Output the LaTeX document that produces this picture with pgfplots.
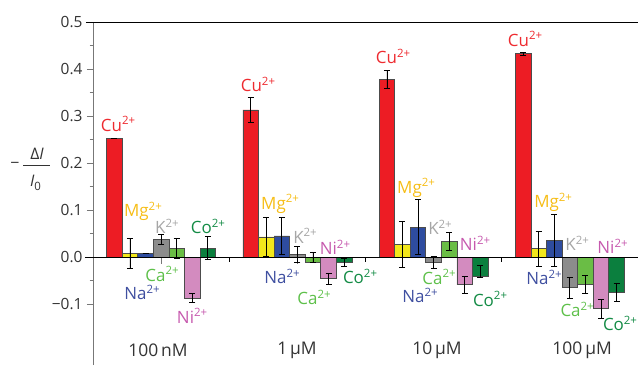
\documentclass[border=0pt]{standalone}
\usepackage{fontspec}
\setmainfont{Open Sans}
\usepackage{pgfplots}
\usepackage{pgfplotstable}
\pgfplotsset{compat=1.18}

\definecolor{cuC}{HTML}{ED1C24}
\definecolor{mgC}{HTML}{F2E71B}
\definecolor{naC}{HTML}{2E4C9F}
\definecolor{kC}{HTML}{8C8C8C}
\definecolor{caC}{HTML}{6ABD45}
\definecolor{niC}{HTML}{D38BBF}
\definecolor{coC}{HTML}{0B7F3E}
\definecolor{cuL}{HTML}{EE2A2F}
\definecolor{mgL}{HTML}{F6BD16}
\definecolor{naL}{HTML}{3F4FA0}
\definecolor{kL}{HTML}{A6A6A6}
\definecolor{caL}{HTML}{5EC04A}
\definecolor{niL}{HTML}{C659AE}
\definecolor{coL}{HTML}{138B45}
\definecolor{txt}{HTML}{333333}
\definecolor{axg}{HTML}{777777}

\newcommand\ion[2]{#1\raisebox{6.2bp}{\fontsize{11.5}{11.5}\selectfont #2}}

\pgfplotstableread{
x y ep em
0 0.253 0 0
1 0.313 0.027 0.027
2 0.377 0.019 0.019
3 0.433 0.003 0.003
}\cu
\pgfplotstableread{
x y ep em
0 0.008 0.032 0.032
1 0.043 0.041 0.041
2 0.027 0.048 0.048
3 0.018 0.037 0.037
}\mg
\pgfplotstableread{
x y ep em
0 0.008 0 0
1 0.045 0.039 0.039
2 0.064 0.059 0.059
3 0.036 0.055 0.055
}\na
\pgfplotstableread{
x y ep em
0 0.038 0.010 0.010
1 0.006 0.017 0.017
2 -0.011 0.012 0.012
3 -0.065 0.022 0.022
}\kk
\pgfplotstableread{
x y ep em
0 0.019 0.021 0.021
1 -0.011 0.022 0.001
2 0.034 0.019 0.019
3 -0.058 0.019 0.019
}\ca
\pgfplotstableread{
x y ep em
0 -0.087 0.010 0.010
1 -0.046 0.012 0.012
2 -0.059 0.018 0.018
3 -0.110 0.020 0.020
}\ni
\pgfplotstableread{
x y ep em
0 0.019 0.024 0.024
1 -0.011 0.009 0.009
2 -0.040 0.023 0.003
3 -0.075 0.020 0.020
}\co

\begin{document}
\begin{tikzpicture}[x=1bp,y=1bp]
\useasboundingbox (0,0) rectangle (638,365);
\begin{axis}[
  at={(93bp,0bp)}, anchor=south west,
  width=545bp, height=343bp, scale only axis,
  xmin=-0.5, xmax=3.5, ymin=-0.2295, ymax=0.5,
  clip=false,
  axis x line=none, axis y line=left,
  axis line style={-, draw=axg, line width=0.9bp},
  ytick={-0.1,0,0.1,0.2,0.3,0.4,0.5},
  yticklabels={−0.1,0.0,0.1,0.2,0.3,0.4,0.5},
  minor y tick num=1,
  tick align=outside, ytick pos=left,
  major tick length=6bp, minor tick length=3.5bp,
  every tick/.style={draw=axg, line width=0.9bp},
  yticklabel style={font=\fontsize{15.5}{16}\selectfont, text=txt, xshift=-1bp},
  ybar=0pt, bar width=15.57bp,
  error bars/y dir=both, error bars/y explicit,
  error bars/error mark options={rotate=90, mark size=3bp, line width=0.8bp, black},
  error bars/error bar style={line width=0.8bp, black},
]
% ticks on zero line
\draw[axg, line width=0.8bp] (axis cs:0,0) -- ++(0pt,-6.5bp);
\draw[black, line width=0.8bp] (axis cs:0.5,0) -- ++(0pt,-5bp);
\draw[axg, line width=0.8bp] (axis cs:1,0) -- ++(0pt,-6.5bp);
\draw[black, line width=0.8bp] (axis cs:1.5,0) -- ++(0pt,-5bp);
\draw[axg, line width=0.8bp] (axis cs:2,0) -- ++(0pt,-6.5bp);
\draw[black, line width=0.8bp] (axis cs:2.5,0) -- ++(0pt,-5bp);
\draw[axg, line width=0.8bp] (axis cs:3,0) -- ++(0pt,-6.5bp);

\addplot[fill=cuC, draw=black!70, line width=0.7bp] table[x=x,y=y,y error plus=ep,y error minus=em]{\cu};
\addplot[fill=mgC, draw=black!70, line width=0.7bp] table[x=x,y=y,y error plus=ep,y error minus=em]{\mg};
\addplot[fill=naC, draw=black!70, line width=0.7bp] table[x=x,y=y,y error plus=ep,y error minus=em]{\na};
\addplot[fill=kC, draw=black!70, line width=0.7bp] table[x=x,y=y,y error plus=ep,y error minus=em]{\kk};
\addplot[fill=caC, draw=black!70, line width=0.7bp] table[x=x,y=y,y error plus=ep,y error minus=em]{\ca};
\addplot[fill=niC, draw=black!70, line width=0.7bp] table[x=x,y=y,y error plus=ep,y error minus=em]{\ni};
\addplot[fill=coC, draw=black!70, line width=0.7bp] table[x=x,y=y,y error plus=ep,y error minus=em]{\co};

% zero line and top line
\draw[black, line width=0.9bp] (axis cs:-0.559,0) -- (axis cs:3.5,0);
\draw[black, line width=0.9bp] (axis cs:-0.552,0.5) -- (axis cs:3.5,0.5);

\tikzset{ion/.style={font=\fontsize{17}{17}\selectfont, inner sep=0pt}}
% group 1
\node[ion, text=cuL] at (axis cs:-0.316,0.283) {\ion{Cu}{2+}};
\node[ion, text=mgL] at (axis cs:-0.133,0.098) {\ion{Mg}{2+}};
\node[ion, text=kL]  at (axis cs:0.043,0.066) {\ion{K}{2+}};
\node[ion, text=coL] at (axis cs:0.344,0.066) {\ion{Co}{2+}};
\node[ion, text=caL] at (axis cs:0.007,-0.036) {\ion{Ca}{2+}};
\node[ion, text=naL] at (axis cs:-0.140,-0.075) {\ion{Na}{2+}};
\node[ion, text=niL] at (axis cs:0.227,-0.125) {\ion{Ni}{2+}};
% group 2
\node[ion, text=cuL] at (axis cs:0.711,0.368) {\ion{Cu}{2+}};
\node[ion, text=mgL] at (axis cs:0.873,0.113) {\ion{Mg}{2+}};
\node[ion, text=kL]  at (axis cs:1.056,0.045) {\ion{K}{2+}};
\node[ion, text=niL] at (axis cs:1.276,0.021) {\ion{Ni}{2+}};
\node[ion, text=naL] at (axis cs:0.887,-0.041) {\ion{Na}{2+}};
\node[ion, text=coL] at (axis cs:1.460,-0.041) {\ion{Co}{2+}};
\node[ion, text=caL] at (axis cs:1.122,-0.085) {\ion{Ca}{2+}};
% group 3
\node[ion, text=cuL] at (axis cs:1.702,0.427) {\ion{Cu}{2+}};
\node[ion, text=mgL] at (axis cs:1.871,0.147) {\ion{Mg}{2+}};
\node[ion, text=kL]  at (axis cs:2.047,0.064) {\ion{K}{2+}};
\node[ion, text=niL] at (axis cs:2.304,0.030) {\ion{Ni}{2+}};
\node[ion, text=caL] at (axis cs:2.040,-0.042) {\ion{Ca}{2+}};
\node[ion, text=naL] at (axis cs:1.900,-0.082) {\ion{Na}{2+}};
\node[ion, text=coL] at (axis cs:2.414,-0.089) {\ion{Co}{2+}};
% group 4
\node[ion, text=cuL] at (axis cs:2.671,0.464) {\ion{Cu}{2+}};
\node[ion, text=mgL] at (axis cs:2.877,0.117) {\ion{Mg}{2+}};
\node[ion, text=kL]  at (axis cs:3.053,0.030) {\ion{K}{2+}};
\node[ion, text=niL] at (axis cs:3.313,0.023) {\ion{Ni}{2+}};
\node[ion, text=naL] at (axis cs:2.810,-0.043) {\ion{Na}{2+}};
\node[ion, text=caL] at (axis cs:3.053,-0.111) {\ion{Ca}{2+}};
\node[ion, text=coL] at (axis cs:3.368,-0.141) {\ion{Co}{2+}};

% category labels
\tikzset{cat/.style={font=\fontsize{17.5}{17.5}\selectfont, text=txt, inner sep=0pt}}
\node[cat] at (axis cs:-0.023,-0.198) {100\,nM};
\node[cat] at (axis cs:0.997,-0.198) {1\,µM};
\node[cat] at (axis cs:2.025,-0.198) {10\,µM};
\node[cat] at (axis cs:3.090,-0.198) {100\,µM};
\end{axis}
% y label
\node[font=\fontsize{16}{16}\selectfont, text=txt, inner sep=0pt] at (15,199.5) {−};
\draw[txt, line width=0.7bp] (23,199.5) -- (50,199.5);
\node[font=\fontsize{16}{16}\selectfont, text=txt, inner sep=0pt] at (37,211) {Δ\textit{I}};
\node[font=\fontsize{16}{16}\selectfont, text=txt, inner sep=0pt] at (35.5,182) {\textit{I}\raisebox{-3.5bp}{\fontsize{11.5}{11.5}\selectfont 0}};
\end{tikzpicture}
\end{document}
